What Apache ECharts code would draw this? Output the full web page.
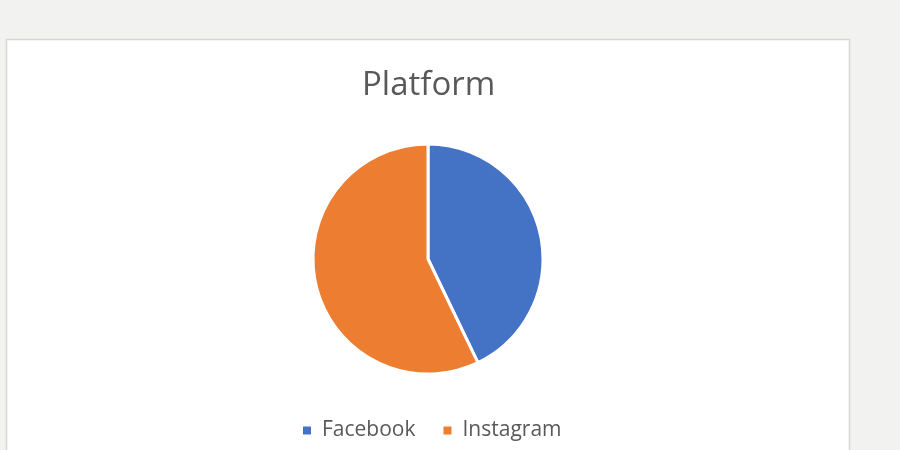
<!DOCTYPE html>
<html>
<head>
<meta charset="utf-8">
<script src="https://cdn.jsdelivr.net/npm/echarts@6/dist/echarts.min.js"></script>
<style>
html,body{margin:0;padding:0;background:#f2f2f0;}
#chart{width:900px;height:450px;}
</style>
</head>
<body>
<div id="chart"></div>
<script>
const categories = ['Facebook', 'Instagram'];
const values = [3, 4];
const colors = ['#4472c4', '#ed7d31'];
const titleText = 'Platform';

const chart = echarts.init(document.getElementById('chart'));
chart.setOption({
  backgroundColor: '#f2f2f0',
  animation: false,
  graphic: [{
    type: 'rect',
    z: -10,
    shape: { x: 6.5, y: 39.5, width: 843, height: 430 },
    style: { fill: '#ffffff', stroke: '#d6d6d6', lineWidth: 1.5 }
  }],
  title: {
    text: titleText,
    left: 357,
    top: 64,
    textStyle: { fontFamily: 'Open Sans', fontSize: 33, fontWeight: 'normal', color: '#595959' }
  },
  legend: {
    data: categories,
    left: 296,
    top: 415,
    icon: 'rect',
    itemWidth: 10,
    itemHeight: 10,
    itemGap: 26,
    textStyle: { fontFamily: 'Open Sans', fontSize: 21, color: '#595959', padding: [0, 0, 0, 5] }
  },
  series: [{
    type: 'pie',
    center: [428, 259],
    radius: 115,
    startAngle: 90,
    clockwise: true,
    label: { show: false },
    labelLine: { show: false },
    itemStyle: { borderColor: '#ffffff', borderWidth: 3 },
    data: categories.map((c, i) => ({ name: c, value: values[i], itemStyle: { color: colors[i] } }))
  }]
});
</script>
</body>
</html>
